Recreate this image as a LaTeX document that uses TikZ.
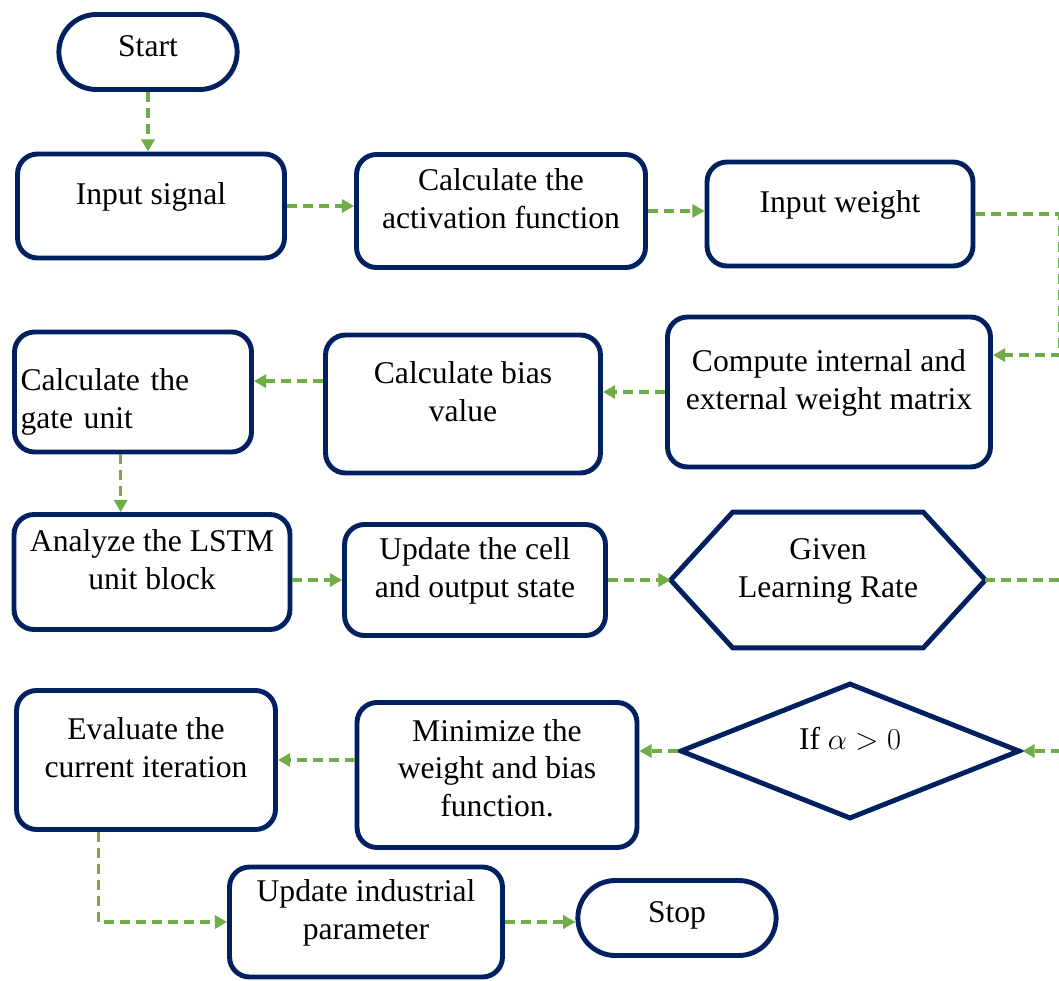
\documentclass[tikz,border=0pt]{standalone}
\usepackage{fontspec}
\setmainfont{Liberation Serif}
\usetikzlibrary{arrows.meta,shapes.geometric,shapes.misc,calc}
\definecolor{boxblue}{RGB}{0,32,96}
\definecolor{flowgreen}{RGB}{112,173,71}

\begin{document}
\begin{tikzpicture}[x=0.02cm,y=-0.02cm,
		txt/.style={align=center,font=\fontsize{18}{21.6}\selectfont,text depth=14pt},
		box/.style={txt,draw=boxblue,line width=2.8pt,rounded corners=0.4cm},
		term/.style={txt,text depth=7pt,rounded rectangle,draw=boxblue,line width=2.8pt,minimum width=3.8cm,minimum height=1.5cm},
		flow/.style={draw=flowgreen,line width=2pt,dash pattern=on 5.7pt off 3.4pt,-{Triangle[length=7pt,width=7.5pt]}}]
		\useasboundingbox (0,0) rectangle (1059,981);
		% first row
		\node[term] (start) at (148,52) {Start};
		\node[box,minimum width=5.34cm,minimum height=2.08cm] (input) at (151,206) {Input signal};
		\node[box,minimum width=5.78cm,minimum height=2.26cm] (act) at (501,211) {Calculate the\\activation function};
		\node[box,minimum width=5.32cm,minimum height=2.08cm] (weight) at (840,214) {Input weight};
		% second row
		\node[box,minimum width=6.46cm,minimum height=3cm] (matrix) at (829,392) {Compute internal and\\external weight matrix};
		\node[box,minimum width=5.5cm,minimum height=2.76cm] (bias) at (463,404) {Calculate bias\\value};
		\node[box,minimum width=4.74cm,minimum height=2.4cm,text width=4.5cm,align=left] (gate) at (133,392) {Calculate the\\gate unit};
		% third row
		\node[box,minimum width=5.52cm,minimum height=2.3cm] (analyze) at (152,572) {Analyze the LSTM\\unit block};
		\node[box,minimum width=5.22cm,minimum height=2.22cm] (cell) at (475,580) {Update the cell\\and output state};
		\node[txt,minimum width=6.28cm,minimum height=2.7cm] (rate) at (828,580) {Given\\Learning Rate};
		\draw[draw=boxblue,line width=2.8pt,line join=miter] (rate.west) -- ($(rate.north west)+(62,0)$) -- ($(rate.north east)+(-62,0)$)
		-- (rate.east) -- ($(rate.south east)+(-62,0)$) -- ($(rate.south west)+(62,0)$) -- cycle;
		% fourth row
		\node[txt,diamond,draw=boxblue,line width=2.8pt,aspect=2.5,minimum width=6.8cm,minimum height=2.72cm,inner sep=0pt] (cond) at (850,751) {If $\alpha > 0$};
		\node[box,text depth=8pt,minimum width=5.6cm,minimum height=2.9cm] (minimize) at (497,775) {Minimize the\\weight and bias\\function.};
		\node[box,minimum width=5.18cm,minimum height=2.78cm] (evaluate) at (146,760) {Evaluate the\\current iteration};
		% last row
		\node[box,minimum width=5.46cm,minimum height=2.2cm] (industrial) at (366,922) {Update industrial\\parameter};
		\node[term,minimum width=4.2cm] (stop) at (677,918) {Stop};
		% connectors
		\draw[flow] (start.south) -- (start.south |- input.north);
		\draw[flow] (input.east) -- (input.east -| act.west);
		\draw[flow] (act.east) -- (act.east -| weight.west);
		\draw[flow] (weight.east) -- ++(84,0) |- ([yshift=21pt]matrix.east);
		\draw[flow] (matrix.west) -- (matrix.west -| bias.east);
		\draw[flow] ([yshift=13pt]bias.west) -- ([yshift=13pt]bias.west -| gate.east);
		\draw[flow] ([xshift=-7pt]gate.south) -- ([xshift=-7pt]gate.south |- analyze.north);
		\draw[flow] (cell.west -| analyze.east) -- (cell.west);
		\draw[flow] (cell.east) -- (cell.east -| rate.west);
		\draw[flow] (rate.east) -- ++(80,0) |- (cond.east);
		\draw[flow] (cond.west) -- (cond.west -| minimize.east);
		\draw[flow] (evaluate.east -| minimize.west) -- (evaluate.east);
		\draw[flow] ([xshift=-27pt]evaluate.south) |- (industrial.west);
		\draw[flow] (industrial.east) -- (industrial.east -| stop.west);
\end{tikzpicture}
\end{document}
